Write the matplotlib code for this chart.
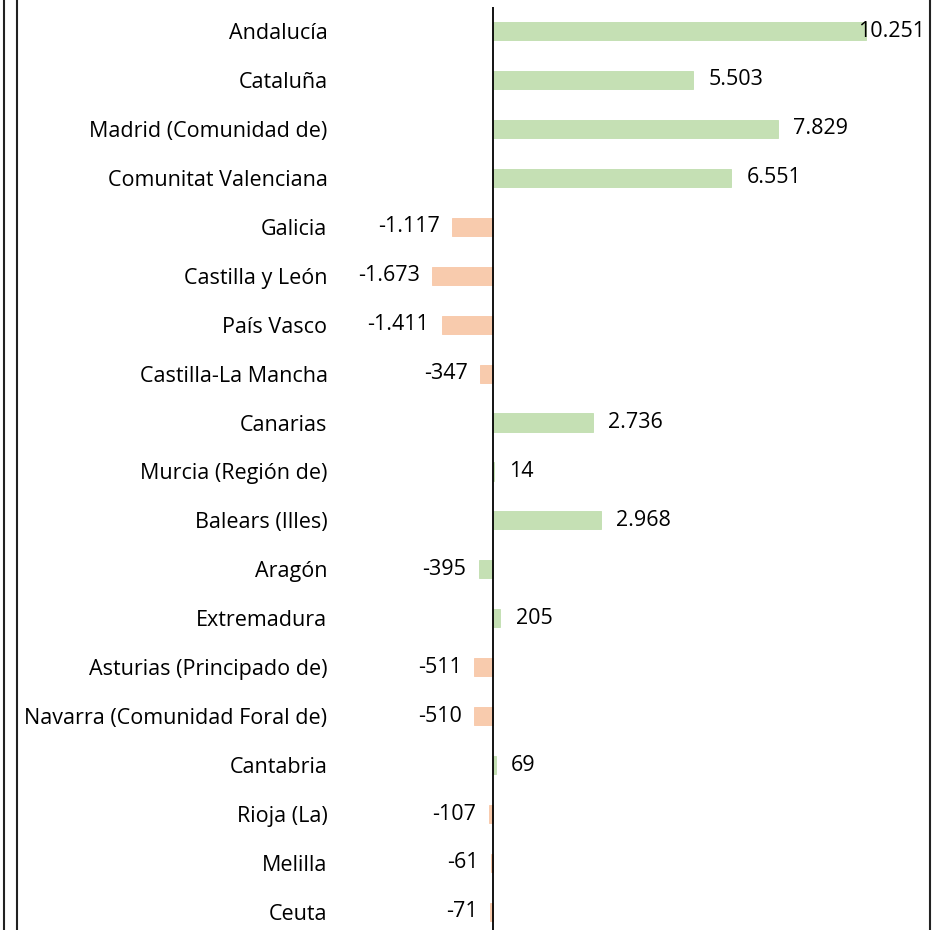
import matplotlib
matplotlib.use("Agg")
import matplotlib.pyplot as plt
from matplotlib.lines import Line2D

# Datos
comunidades = ["Andalucía", "Cataluña", "Madrid (Comunidad de)", "Comunitat Valenciana",
               "Galicia", "Castilla y León", "País Vasco", "Castilla-La Mancha", "Canarias",
               "Murcia (Región de)", "Balears (Illes)", "Aragón", "Extremadura",
               "Asturias (Principado de)", "Navarra (Comunidad Foral de)", "Cantabria",
               "Rioja (La)", "Melilla", "Ceuta"]
valores = [10251, 5503, 7829, 6551, -1117, -1673, -1411, -347, 2736, 14, 2968,
           -395, 205, -511, -510, 69, -107, -61, -71]

VERDE = "#C5E0B4"
NARANJA = "#F8CBAD"
colores = [VERDE if v > 0 or c == "Aragón" else NARANJA for c, v in zip(comunidades, valores)]

plt.rcParams["font.family"] = ["Open Sans", "DejaVu Sans"]
FS = 15.5

W, H = 935, 930
fig = plt.figure(figsize=(W / 100, H / 100), dpi=100)

# area del grafico en pixeles
left_px, right_px, top_px = 340, 925, 7
ax = fig.add_axes([left_px / W, 0, (right_px - left_px) / W, (H - top_px) / H])

pos = list(range(len(comunidades)))
ax.barh(pos, valores, height=0.37, color=colores, edgecolor=colores, linewidth=0.7)

escala = 0.03639  # px por unidad
ax.set_xlim(-(493 - left_px) / escala, (right_px - 493) / escala)
y0, paso = 31, 48.94
ax.set_ylim((H - y0) / paso, -(y0 - top_px) / paso)

ax.axvline(0, color="black", lw=1.3)

for s in ax.spines.values():
    s.set_visible(False)
ax.set_xticks([])
ax.set_yticks(pos)
ax.set_yticklabels(comunidades, fontsize=FS)
ax.tick_params(axis="y", length=0, pad=9)

xmax = ax.get_xlim()[1]
for i, v in enumerate(valores):
    txt = f"{v:,}".replace(",", ".")
    if v == max(valores):
        ax.text(xmax, i, txt, ha="right", va="center", fontsize=FS)
    elif v > 0:
        ax.annotate(txt, (v, i), xytext=(11, 0), textcoords="offset points",
                    ha="left", va="center", fontsize=FS)
    else:
        ax.annotate(txt, (v, i), xytext=(-9, 0), textcoords="offset points",
                    ha="right", va="center", fontsize=FS)

# marco
for xp in (4, 17, 930):
    fig.add_artist(Line2D([xp / W, xp / W], [0, 1], color="#222222", lw=1.5,
                          transform=fig.transFigure))

fig.savefig("out.png", dpi=100)
